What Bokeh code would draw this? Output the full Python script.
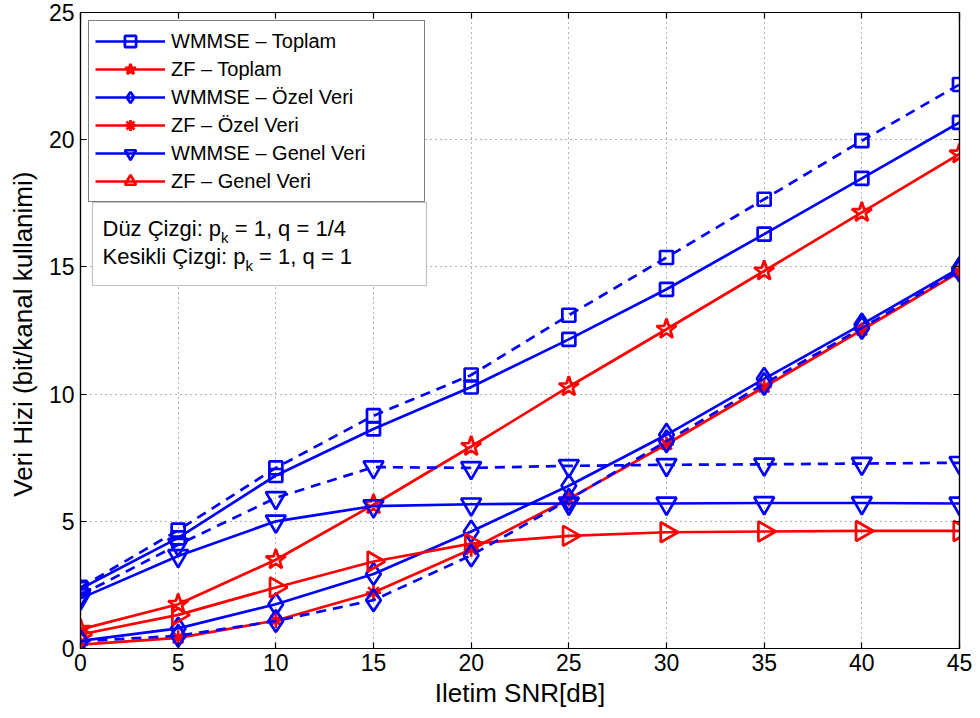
import numpy as np
from bokeh.plotting import figure
from bokeh.models import (Range1d, LinearAxis, Legend, LegendItem, BoxAnnotation,
                          Label, FixedTicker, CustomJSTickFormatter)
from bokeh.embed import file_html
from bokeh.resources import INLINE

# ---------------- data ----------------
snr = [0, 5, 10, 15, 20, 25, 30, 35, 40, 45]
x_ticks = [0, 5, 10, 15, 20, 25, 30, 35, 40, 45]
y_ticks = [0, 5, 10, 15, 20, 25]

wmmse_toplam_q14 = [2.35, 4.35, 6.8, 8.63, 10.28, 12.15, 14.12, 16.29, 18.48, 20.68]
wmmse_toplam_q1 = [2.4, 4.65, 7.1, 9.15, 10.75, 13.1, 15.37, 17.66, 19.96, 22.17]
zf_toplam = [0.75, 1.74, 3.49, 5.65, 7.94, 10.29, 12.55, 14.84, 17.14, 19.44]
wmmse_ozel_q14 = [0.3, 0.79, 1.74, 2.93, 4.6, 6.4, 8.4, 10.6, 12.74, 14.95]
wmmse_ozel_q1 = [0.28, 0.5, 1.08, 1.9, 3.66, 5.85, 8.15, 10.4, 12.6, 14.85]
zf_ozel = [0.15, 0.42, 1.1, 2.2, 3.9, 5.88, 8.03, 10.28, 12.52, 14.8]
wmmse_genel_q14 = [1.97, 3.64, 5.0, 5.6, 5.67, 5.7, 5.7, 5.72, 5.72, 5.7]
wmmse_genel_q1 = [2.1, 4.08, 5.92, 7.13, 7.1, 7.18, 7.22, 7.24, 7.27, 7.3]
zf_genel = [0.55, 1.32, 2.4, 3.42, 4.12, 4.43, 4.57, 4.6, 4.62, 4.62]

labels = ["WMMSE \u2013 Toplam", "ZF \u2013 Toplam", "WMMSE \u2013 \u00d6zel Veri",
          "ZF \u2013 \u00d6zel Veri", "WMMSE \u2013 Genel Veri", "ZF \u2013 Genel Veri"]
x_label = "Iletim SNR[dB]"
y_label = "Veri Hizi  (bit/kanal kullanimi)"

BLUE = "#0000ff"
RED = "#ff0000"
FONT = "Liberation Sans"
LW = 2.7

X0, X1 = 0, 45
Y0, Y1 = 0, 25
p = figure(width=980, height=718, x_range=Range1d(X0, X1), y_range=Range1d(Y0, Y1),
           output_backend="svg", toolbar_location=None,
           min_border_left=80, min_border_right=21, min_border_top=12, min_border_bottom=70)
p.background_fill_color = "white"
p.border_fill_color = "white"
p.outline_line_color = "black"
p.outline_line_width = 1.2

# axes
for ax in (p.xaxis[0], p.yaxis[0]):
    ax.major_tick_in = 6
    ax.major_tick_out = 0
    ax.minor_tick_line_color = None
    ax.axis_line_color = "black"
    ax.axis_line_width = 1.2
    ax.major_tick_line_width = 1.2
    ax.major_label_text_font = FONT
    ax.major_label_text_font_size = "23px"
    ax.major_label_text_color = "black"
    ax.axis_label_text_font = FONT
    ax.axis_label_text_font_size = "26px"
    ax.axis_label_text_font_style = "normal"
    ax.axis_label_text_color = "black"
p.xaxis[0].ticker = FixedTicker(ticks=x_ticks)
p.yaxis[0].ticker = FixedTicker(ticks=y_ticks)
p.xaxis[0].axis_label = x_label
p.yaxis[0].axis_label = y_label
p.xaxis[0].major_label_standoff = 5
p.yaxis[0].major_label_standoff = 6
p.xaxis[0].axis_label_standoff = 4
p.yaxis[0].axis_label_standoff = 8

# box ticks on the right and top (no labels)
for loc in ("right", "above"):
    ax = LinearAxis(ticker=FixedTicker(ticks=x_ticks if loc == "above" else y_ticks),
                    formatter=CustomJSTickFormatter(code="return ''"),
                    major_tick_in=6, major_tick_out=0, minor_tick_line_color=None,
                    major_label_standoff=0,
                    axis_line_color="black", axis_line_width=1.2, major_tick_line_width=1.2)
    p.add_layout(ax, loc)

# grid
p.xgrid.ticker = FixedTicker(ticks=x_ticks)
p.ygrid.ticker = FixedTicker(ticks=y_ticks)
for g in (p.xgrid[0], p.ygrid[0]):
    g.grid_line_color = "#444444"
    g.grid_line_alpha = 0.8
    g.grid_line_dash = "1 4"
    g.grid_line_width = 1

def series(y, color, marker, size, dash="solid", angle=0.0):
    ln = p.line(snr, y, line_color=color, line_width=LW, line_dash=dash)
    sc = p.scatter(snr, y, marker=marker, size=size, line_color=color, fill_color=None,
                   line_width=LW, angle=angle)
    return [ln, sc]

r1 = series(wmmse_toplam_q14, BLUE, "square", 13)
r2 = series(zf_toplam, RED, "star", 21)
r3 = series(wmmse_ozel_q14, BLUE, "diamond", 22)
r4 = series(zf_ozel, RED, "asterisk", 15)
r5 = series(wmmse_genel_q14, BLUE, "inverted_triangle", 20)
r6 = series(zf_genel, RED, "triangle", 20, angle=-np.pi / 2)
series(wmmse_toplam_q1, BLUE, "square", 13, dash="10 7")
series(wmmse_genel_q1, BLUE, "inverted_triangle", 20, dash="10 7")
series(wmmse_ozel_q1, BLUE, "diamond", 22, dash="10 7")

legend = Legend(items=[LegendItem(label=l, renderers=r) for l, r in
                       zip(labels, [r1, r2, r3, r4, r5, r6])],
                location="top_left", margin=8, padding=6, spacing=0,
                glyph_width=70, glyph_height=28, label_height=20, label_width=247,
                label_standoff=6, label_text_font=FONT, label_text_font_size="20px",
                label_text_color="black",
                border_line_color="black", border_line_width=1.2,
                background_fill_color="white", background_fill_alpha=1)
p.add_layout(legend)

# annotation box (pixel layout converted to data space)
def dx(px):
    return (px - 80) * (X1 - X0) / 879.0

def dy(py):
    return (648 - py) * (Y1 - Y0) / 636.0

box = BoxAnnotation(left=dx(92), right=dx(426), top=dy(202), bottom=dy(285),
                    fill_color="white", fill_alpha=1, line_color="#333333", line_width=1.2)
p.add_layout(box)

TF = "22px"
SF = "15px"
lines = [("D\u00fcz \u00c7izgi: p", "= 1, q = 1/4", 228, 5.39),
         ("Kesikli \u00c7izgi: p", "= 1, q = 1", 256, 6.501)]
for head, tail, base, em in lines:
    w = em * 22
    p.add_layout(Label(x=dx(102), y=dy(base), text=head, text_font=FONT, text_font_size=TF,
                       text_baseline="alphabetic", text_color="black"))
    p.add_layout(Label(x=dx(102 + w), y=dy(base + 9), text="k", text_font=FONT,
                       text_font_size=SF, text_baseline="alphabetic", text_color="black"))
    p.add_layout(Label(x=dx(102 + w + 7.5 + 6.1), y=dy(base), text=tail, text_font=FONT,
                       text_font_size=TF, text_baseline="alphabetic", text_color="black"))

open("out.html", "w").write(file_html(p, INLINE))
